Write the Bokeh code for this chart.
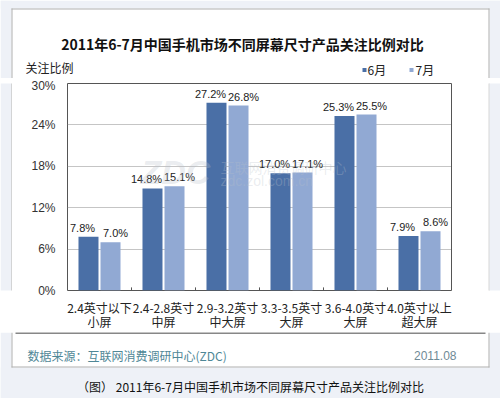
from bokeh.plotting import figure
from bokeh.layouts import column, row
from bokeh.models import ColumnDataSource, FactorRange, Label, BoxAnnotation, PrintfTickFormatter, FixedTicker
from bokeh.core.properties import value
from bokeh.transform import dodge
from bokeh.embed import file_html
from bokeh.resources import INLINE

categories = ["2.4英寸以下\n小屏", "2.4-2.8英寸\n中屏", "2.9-3.2英寸\n中大屏",
              "3.3-3.5英寸\n大屏", "3.6-4.0英寸\n大屏", "4.0英寸以上\n超大屏"]
june = [7.8, 14.8, 27.2, 17.0, 25.3, 7.9]
july = [7.0, 15.1, 26.8, 17.1, 25.5, 8.6]
series_names = ["6月", "7月"]
y_ticks = [0, 6, 12, 18, 24, 30]
title_text = "2011年6-7月中国手机市场不同屏幕尺寸产品关注比例对比"
y_title = "关注比例"
source_text = "数据来源：互联网消费调研中心(ZDC)"
date_text = "2011.08"
caption_text = "（图） 2011年6-7月中国手机市场不同屏幕尺寸产品关注比例对比"

CJK = "Noto Sans CJK SC"
LAT = "Liberation Sans"
DARK = "#4a6fa6"
LIGHT = "#91a9d3"
BG = "#eef1f7"
EDGE = "#b0b0b0"
W = 500


def deco(w, h):
    f = figure(width=w, height=h, x_range=(0, w), y_range=(h, 0), output_backend="svg",
               toolbar_location=None, min_border=0, x_axis_type=None, y_axis_type=None)
    f.outline_line_color = None
    f.background_fill_color = "white"
    f.border_fill_color = "white"
    return f


def box(f, l, r, t, b, color):
    f.add_layout(BoxAnnotation(left=l, right=r, top=t, bottom=b,
                               left_units="canvas", right_units="canvas",
                               top_units="canvas", bottom_units="canvas",
                               fill_color=color, fill_alpha=1, line_color=None))


def lab(f, x, y, text, font=CJK, size="12px", align="left", color="#222222", **kw):
    f.add_layout(Label(x=x, y=y, x_units="canvas", y_units="canvas", text=text,
                       text_font=font, text_font_size=size, text_align=align,
                       text_baseline="middle", text_color=color, **kw))


# ---------- top strip (title, y title, legend) ----------
TOP_H = 78
top = deco(W, TOP_H)
box(top, 0, W, 0, 8, BG)
box(top, 0, 11, 0, TOP_H, BG)
box(top, 489, W, 0, TOP_H, BG)
box(top, 11, 489, 8, 9, EDGE)
box(top, 11, 12, 8, TOP_H, EDGE)
box(top, 488, 489, 8, TOP_H, EDGE)
lab(top, 242, 43.5, title_text, size="14px", align="center", color="#111111", text_font_style="bold")
lab(top, 25, 66.5, y_title)
box(top, 362, 366, 67.5, 71.5, DARK)
lab(top, 367, 69.3, series_names[0])
box(top, 409, 413, 67.5, 71.5, LIGHT)
lab(top, 415, 69.3, series_names[1])

# ---------- main chart ----------
MAIN_H = 254
src = ColumnDataSource(dict(
    cat=categories, june=june, july=july,
    june_lbl=[f"{v:.1f}%" for v in june],
    july_lbl=[f"{v:.1f}%" for v in july],
))

p = figure(width=476, height=MAIN_H, x_range=FactorRange(*categories), y_range=(0, 30),
           output_backend="svg", toolbar_location=None,
           min_border_left=55, min_border_right=37, min_border_top=5, min_border_bottom=42)
p.background_fill_color = "white"
p.border_fill_color = "white"
p.outline_line_color = "#555555"
p.outline_line_width = 1

p.vbar(x=dodge("cat", -0.172, range=p.x_range), top="june", width=0.3125, source=src,
       fill_color=DARK, line_color=None)
p.vbar(x=dodge("cat", 0.172, range=p.x_range), top="july", width=0.3125, source=src,
       fill_color=LIGHT, line_color=None)

# faint watermark
lab(p, 128, 93, "ZDC", font=LAT, size="34px", color="#b8bfca", text_alpha=0.3,
    text_font_style="bold italic")
lab(p, 208, 88, "互联网消费调研中心", size="14px", color="#b8bfca", text_alpha=0.3)
lab(p, 208, 102, "zdc.zol.com.cn", font=LAT, size="14px", color="#b8bfca", text_alpha=0.3)

p.text(x=dodge("cat", -0.172, range=p.x_range), y="june", text="june_lbl", source=src,
       text_align="center", text_baseline="bottom", y_offset=-3, x_offset=-6,
       text_font_size="11px", text_color="#222222", text_font=value(LAT))
p.text(x=dodge("cat", 0.172, range=p.x_range), y="july", text="july_lbl", source=src,
       text_align="center", text_baseline="bottom", y_offset=-3, x_offset=5,
       text_font_size="11px", text_color="#222222", text_font=value(LAT))

# small tick marks at category boundaries
p.segment(x0=[1, 2, 3, 4, 5], y0=[0] * 5, x1=[1, 2, 3, 4, 5], y1=[0.45] * 5,
          line_color="#555555", line_width=1)

p.xgrid.grid_line_color = None
p.ygrid.grid_line_color = "#8a8a8a"
p.ygrid.grid_line_dash = "1 1"
p.yaxis.ticker = FixedTicker(ticks=y_ticks)
p.yaxis.formatter = PrintfTickFormatter(format="%d%%")
p.yaxis.axis_line_color = None
p.yaxis.major_tick_line_color = None
p.yaxis.minor_tick_line_color = None
p.yaxis.major_tick_out = 0
p.yaxis.major_tick_in = 0
p.yaxis.major_label_text_font_size = "12px"
p.yaxis.major_label_text_color = "#333333"
p.yaxis.major_label_text_font = LAT
p.yaxis.major_label_standoff = 12
p.xaxis.axis_line_color = None
p.xaxis.major_tick_line_color = None
p.xaxis.major_tick_out = 0
p.xaxis.major_tick_in = 0
p.xaxis.major_label_text_font_size = "12px"
p.xaxis.major_label_text_color = "#222222"
p.xaxis.major_label_text_font = CJK
p.xaxis.major_label_text_line_height = 0.85
p.xaxis.major_label_standoff = 8

left = deco(12, MAIN_H)
box(left, 0, 11, 0, MAIN_H, BG)
box(left, 11, 12, 0, MAIN_H, EDGE)
right = deco(12, MAIN_H)
box(right, 0, 1, 0, MAIN_H, EDGE)
box(right, 1, 12, 0, MAIN_H, BG)

# ---------- bottom strip (rule, source, caption) ----------
BOT_H = 398 - TOP_H - MAIN_H
bot = deco(W, BOT_H)
box(bot, 0, 11, 0, BOT_H, BG)
box(bot, 489, W, 0, BOT_H, BG)
box(bot, 0, W, 35, BOT_H, BG)
box(bot, 11, 12, 0, 35, EDGE)
box(bot, 488, 489, 0, 35, EDGE)
box(bot, 11, 489, 34, 35, EDGE)
box(bot, 15, 485, 0, 1, "#111111")
lab(bot, 27, 23, source_text, color="#4f8796")
lab(bot, 456, 23, date_text, font=LAT, align="right", color="#6f8a96")
lab(bot, 250, 54, caption_text, align="center", color="#111111")

layout = column(top, row(left, p, right), bot)
open("out.html", "w").write(file_html(layout, INLINE))
